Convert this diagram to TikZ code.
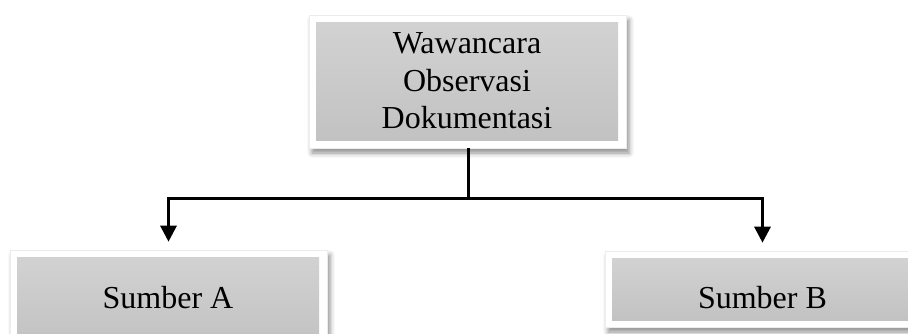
\documentclass[tikz,border=0pt]{standalone}
\usepackage{fontspec}
\setmainfont{Liberation Serif}
\usetikzlibrary{arrows.meta,shadows.blur}
\definecolor{boxtop}{RGB}{210,210,210}
\definecolor{boxbot}{RGB}{194,194,194}
\definecolor{frameline}{RGB}{236,236,236}
\tikzset{
  frame/.style={draw=frameline, line width=0.6pt, fill=white, inner sep=0pt,
    blur shadow={shadow xshift=3pt, shadow yshift=-5pt, shadow blur radius=5pt, shadow opacity=45}},
  grayin/.style={draw=none, top color=boxtop, bottom color=boxbot, inner sep=0pt,
    font=\fontsize{32}{37.5}\selectfont, align=center},
  conn/.style={line width=3pt},
  arr/.style={line width=3pt, -{Triangle[width=16pt,length=16pt]}}
}
\begin{document}
\begin{tikzpicture}[x=1pt,y=-1pt]
\useasboundingbox (0,0) rectangle (908,333);
% top box
\node[frame, minimum width=317pt, minimum height=133pt] (top) at (467.5,81.5) {};
\node[grayin, minimum width=302pt, minimum height=118pt] (topin) at (467,81) {Wawancara\\Observasi\\Dokumentasi};
% Sumber A
\node[frame, minimum width=317pt, minimum height=102pt] (A) at (168.5,301) {};
\node[grayin, minimum width=302pt, minimum height=88pt, text height=14pt, text depth=0pt] (Ain) at (168,301) {Sumber A};
% Sumber B
\node[frame, minimum width=315pt, minimum height=76pt] (B) at (762.5,289) {};
\node[grayin, minimum width=301pt, minimum height=62pt, text height=38pt, text depth=0pt] (Bin) at (762.5,289) {Sumber B};
% connectors
\coordinate (j) at (468,198);
\draw[conn] (top.south -| j) -- (j);
\draw[arr] (j) -| ([yshift=8pt]A.north);
\draw[arr] (j) -| ([yshift=8pt]B.north);
\end{tikzpicture}
\end{document}
